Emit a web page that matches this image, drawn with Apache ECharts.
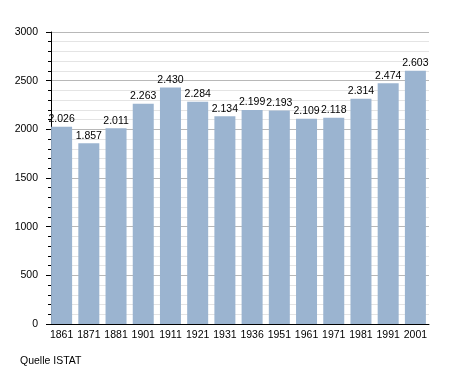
<!DOCTYPE html>
<html><head><meta charset="utf-8">
<script src="https://cdn.jsdelivr.net/npm/echarts@6/dist/echarts.min.js"></script>
<style>html,body{margin:0;padding:0;background:#fff}#c{width:455px;height:373px}</style>
</head><body><div id="c"></div>
<script>
const years = ['1861','1871','1881','1901','1911','1921','1931','1936','1951','1961','1971','1981','1991','2001'];
const population = [2026,1857,2011,2263,2430,2284,2134,2199,2193,2109,2118,2314,2474,2603];
const yTicks = [0,500,1000,1500,2000,2500,3000];
const source = 'Quelle ISTAT';

const chart = echarts.init(document.getElementById('c'), null, {renderer:'canvas'});
chart.setOption({
  animation:false,
  grid:{left:48,right:26,top:32,bottom:49,containLabel:false},
  xAxis:{type:'category',data:years,
    axisLine:{lineStyle:{color:'#000',width:1}},
    axisTick:{show:false},
    axisLabel:{color:'#000',fontFamily:'Liberation Sans, Arial, sans-serif',fontSize:10.5,margin:6,interval:0}
  },
  yAxis:{type:'value',min:yTicks[0],max:yTicks[yTicks.length-1],interval:500,offset:-3,
    axisLine:{show:true,lineStyle:{color:'#000',width:1}},
    axisTick:{show:true,length:5,lineStyle:{color:'#000'}},
    minorTick:{show:true,splitNumber:5,length:3,lineStyle:{color:'#000'}},
    splitLine:{show:true,lineStyle:{color:'#b8b8b8',width:1}},
    minorSplitLine:{show:true,lineStyle:{color:'#e4e4e4',width:1}},
    axisLabel:{color:'#000',fontFamily:'Liberation Sans, Arial, sans-serif',fontSize:10.5,margin:13,formatter:v=>String(v)}
  },
  graphic:[{type:'text',left:20,top:356,style:{text:source,fill:'#000',font:'10.5px Liberation Sans, Arial, sans-serif'}}],
  series:[{type:'bar',data:population,barWidth:21,
    itemStyle:{color:'#9bb4d0'},
    label:{show:true,position:'top',distance:2,color:'#000',fontFamily:'Liberation Sans, Arial, sans-serif',fontSize:10.5,
      formatter:p=>(p.value/1000).toFixed(3)}
  }]
});
</script></body></html>
